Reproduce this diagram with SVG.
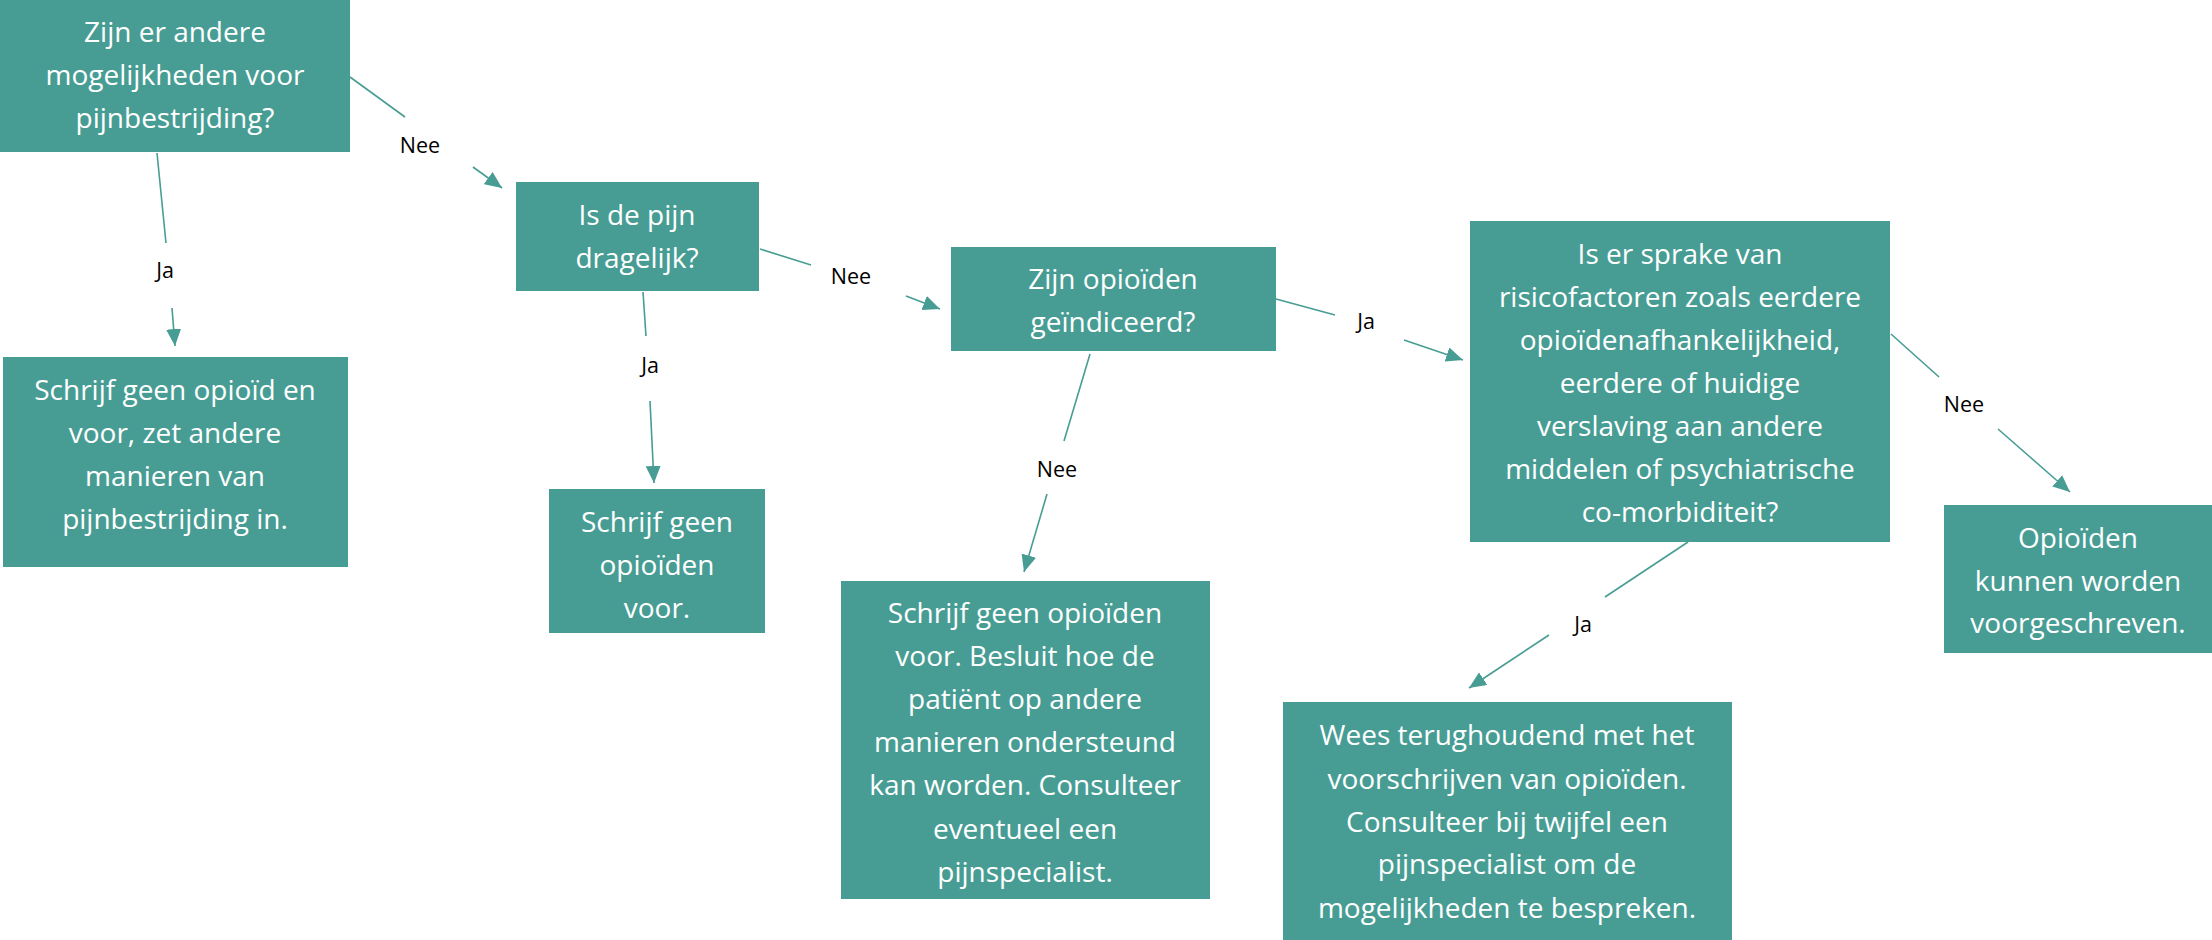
<svg xmlns="http://www.w3.org/2000/svg" width="2212" height="940" viewBox="0 0 2212 940">
<style>
.box{fill:#479d94;}
.t{font-family:"Open Sans","Liberation Sans",sans-serif;font-size:28px;fill:#ffffff;text-anchor:middle;}
.lbl{font-family:"Open Sans","Liberation Sans",sans-serif;font-size:21.5px;fill:#000000;text-anchor:middle;}
.c{stroke:#479d94;stroke-width:1.6;fill:none;}
</style>
<defs>
<marker id="ah" viewBox="0 0 17 15" refX="17" refY="7.5" markerWidth="17" markerHeight="15" markerUnits="userSpaceOnUse" orient="auto">
<path d="M0,0 L17,7.5 L0,15 z" fill="#479d94"/>
</marker>
</defs>
<rect width="2212" height="940" fill="#ffffff"/>
<g id="connectors">
<line class="c" x1="350" y1="77" x2="405" y2="117"/>
<line class="c" x1="473" y1="167" x2="502" y2="188" marker-end="url(#ah)"/>
<line class="c" x1="157" y1="153" x2="166" y2="243"/>
<line class="c" x1="172" y1="308" x2="175" y2="346" marker-end="url(#ah)"/>
<line class="c" x1="760" y1="249" x2="811" y2="265"/>
<line class="c" x1="906" y1="296" x2="940" y2="309" marker-end="url(#ah)"/>
<line class="c" x1="643" y1="292" x2="646" y2="336"/>
<line class="c" x1="650" y1="401" x2="654" y2="483" marker-end="url(#ah)"/>
<line class="c" x1="1090" y1="354" x2="1064" y2="441"/>
<line class="c" x1="1047" y1="494" x2="1024" y2="572" marker-end="url(#ah)"/>
<line class="c" x1="1276" y1="299" x2="1335" y2="315"/>
<line class="c" x1="1404" y1="340" x2="1463" y2="360" marker-end="url(#ah)"/>
<line class="c" x1="1891" y1="334" x2="1939" y2="377"/>
<line class="c" x1="1998" y1="429" x2="2070" y2="492" marker-end="url(#ah)"/>
<line class="c" x1="1688" y1="542" x2="1605" y2="597"/>
<line class="c" x1="1549" y1="635" x2="1469" y2="688" marker-end="url(#ah)"/>
<text class="lbl" x="420" y="153">Nee</text>
<text class="lbl" x="165" y="278">Ja</text>
<text class="lbl" x="851" y="284">Nee</text>
<text class="lbl" x="650" y="373">Ja</text>
<text class="lbl" x="1057" y="477">Nee</text>
<text class="lbl" x="1366" y="329">Ja</text>
<text class="lbl" x="1964" y="412">Nee</text>
<text class="lbl" x="1583" y="632">Ja</text>
</g>
<g id="n1">
<rect class="box" x="0" y="0" width="350" height="152"/>
<text class="t" x="175" y="42">Zijn er andere</text>
<text class="t" x="175" y="85">mogelijkheden voor</text>
<text class="t" x="175" y="128">pijnbestrijding?</text>
</g>
<g id="n2">
<rect class="box" x="3" y="357" width="345" height="210"/>
<text class="t" x="175" y="400">Schrijf geen opioïd en</text>
<text class="t" x="175" y="443">voor, zet andere</text>
<text class="t" x="175" y="486">manieren van</text>
<text class="t" x="175" y="529">pijnbestrijding in.</text>
</g>
<g id="n3">
<rect class="box" x="516" y="182" width="243" height="109"/>
<text class="t" x="637" y="225">Is de pijn</text>
<text class="t" x="637" y="268">dragelijk?</text>
</g>
<g id="n4">
<rect class="box" x="549" y="489" width="216" height="144"/>
<text class="t" x="657" y="532">Schrijf geen</text>
<text class="t" x="657" y="575">opioïden</text>
<text class="t" x="657" y="618">voor.</text>
</g>
<g id="n5">
<rect class="box" x="951" y="247" width="325" height="104"/>
<text class="t" x="1113" y="289">Zijn opioïden</text>
<text class="t" x="1113" y="332">geïndiceerd?</text>
</g>
<g id="n6">
<rect class="box" x="841" y="581" width="369" height="318"/>
<text class="t" x="1025" y="623">Schrijf geen opioïden</text>
<text class="t" x="1025" y="666">voor. Besluit hoe de</text>
<text class="t" x="1025" y="709">patiënt op andere</text>
<text class="t" x="1025" y="752">manieren ondersteund</text>
<text class="t" x="1025" y="795">kan worden. Consulteer</text>
<text class="t" x="1025" y="839">eventueel een</text>
<text class="t" x="1025" y="882">pijnspecialist.</text>
</g>
<g id="n7">
<rect class="box" x="1470" y="221" width="420" height="321"/>
<text class="t" x="1680" y="264">Is er sprake van</text>
<text class="t" x="1680" y="307">risicofactoren zoals eerdere</text>
<text class="t" x="1680" y="350">opioïdenafhankelijkheid,</text>
<text class="t" x="1680" y="393">eerdere of huidige</text>
<text class="t" x="1680" y="436">verslaving aan andere</text>
<text class="t" x="1680" y="479">middelen of psychiatrische</text>
<text class="t" x="1680" y="522">co-morbiditeit?</text>
</g>
<g id="n8">
<rect class="box" x="1944" y="505" width="268" height="148"/>
<text class="t" x="2078" y="548">Opioïden</text>
<text class="t" x="2078" y="591">kunnen worden</text>
<text class="t" x="2078" y="633">voorgeschreven.</text>
</g>
<g id="n9">
<rect class="box" x="1283" y="702" width="449" height="238"/>
<text class="t" x="1507" y="745">Wees terughoudend met het</text>
<text class="t" x="1507" y="789">voorschrijven van opioïden.</text>
<text class="t" x="1507" y="832">Consulteer bij twijfel een</text>
<text class="t" x="1507" y="874">pijnspecialist om de</text>
<text class="t" x="1507" y="918">mogelijkheden te bespreken.</text>
</g>
</svg>
